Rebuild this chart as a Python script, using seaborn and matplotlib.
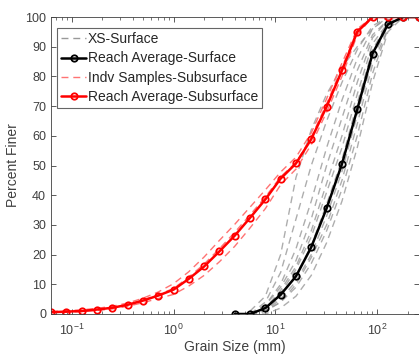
import numpy as np
import pandas as pd
import matplotlib
matplotlib.use("Agg")
import matplotlib.pyplot as plt
import seaborn as sns
from matplotlib.lines import Line2D

sns.set_style("ticks")
plt.rcParams['font.family'] = ['Liberation Sans', 'DejaVu Sans']

# grain sizes (mm)
sizes_sub = [0.0625, 0.088, 0.125, 0.177, 0.25, 0.354, 0.5, 0.707, 1, 1.41, 2, 2.83,
             4, 5.66, 8, 11.3, 16, 22.6, 32, 45.3, 64, 90.5, 128, 181, 256]
avg_sub = [0.6, 0.8, 1.0, 1.5, 2.1, 3.1, 4.5, 6.2, 8.2, 11.8, 16.0, 21.1,
           26.4, 32.4, 38.6, 45.6, 50.7, 58.9, 69.8, 82.0, 95.0, 100, 100, 100, 100]
indv_sub_1 = [0.8, 1.1, 1.4, 1.9, 2.6, 3.7, 5.3, 7.4, 10.2, 14.2, 19.2, 24.8,
              30.2, 36.0, 41.8, 47.8, 52.8, 61.0, 72.5, 84.5, 96.0, 100, 100, 100, 100]
indv_sub_2 = [0.5, 0.6, 0.8, 1.2, 1.7, 2.6, 3.8, 5.2, 6.6, 9.4, 13.0, 17.6,
              22.8, 29.0, 35.5, 43.5, 48.8, 57.0, 68.0, 80.0, 94.0, 100, 100, 100, 100]
indv_sub_3 = [0.6, 0.9, 1.1, 1.6, 2.2, 3.2, 4.7, 6.5, 8.6, 12.4, 16.8, 22.0,
              27.5, 33.4, 39.4, 46.2, 51.0, 59.5, 70.8, 83.0, 95.5, 100, 100, 100, 100]

sizes_surf = [4, 5.66, 8, 11.3, 16, 22.6, 32, 45.3, 64, 90.5, 128, 181, 256]
avg_surf = [0, 0, 2.0, 6.5, 12.7, 22.5, 35.6, 50.5, 68.9, 87.7, 97.5, 100, 100]

sizes_xs = [5.66, 8, 11.3, 16, 22.6, 32, 45.3, 64, 90.5, 128, 181]
xs_1 = [1, 6, 20, 46, 62, 74, 83, 90, 96, 100, 100]
xs_2 = [0, 4, 14, 32, 50, 65, 78, 89, 97, 100, 100]
xs_3 = [0, 3, 10, 22, 38, 56, 72, 86, 96, 100, 100]
xs_4 = [0, 3, 9, 18, 32, 50, 66, 82, 94, 99, 100]
xs_5 = [0, 2, 8, 16, 28, 44, 60, 78, 93, 99, 100]
xs_6 = [0, 2, 7, 15, 26, 41, 56, 74, 91, 98, 100]
xs_7 = [0, 1, 6, 13, 23, 37, 52, 71, 89, 98, 100]
xs_8 = [0, 1, 5, 11, 20, 33, 48, 67, 86, 97, 100]
xs_9 = [0, 1, 4, 10, 19, 30, 45, 64, 84, 96, 100]
xs_10 = [0, 1, 4, 9, 17, 28, 42, 60, 81, 96, 100]
xs_11 = [0, 0, 2, 6, 13, 24, 38, 56, 78, 95, 100]
xs_all = [xs_1, xs_2, xs_3, xs_4, xs_5, xs_6, xs_7, xs_8, xs_9, xs_10, xs_11]

legend_labels = ["XS-Surface", "Reach Average-Surface",
                 "Indv Samples-Subsurface", "Reach Average-Subsurface"]
y_ticks = list(range(0, 101, 10))

fig = plt.figure(figsize=(4.19, 3.55), dpi=100)
ax = fig.add_axes([51/419, 1-314/355, 367.5/419, 297/355])

grey = (0.6, 0.6, 0.6)
dash = (0, (5, 3.5))
for xs in xs_all:
    sns.lineplot(x=sizes_xs, y=xs, ax=ax, color=grey, lw=1.0, alpha=0.8,
                 linestyle=dash, legend=False)

ms = 4.6
sns.lineplot(x=sizes_surf, y=avg_surf, ax=ax, color='black', lw=1.8,
             marker='o', markersize=ms, markerfacecolor='none',
             markeredgecolor='black', markeredgewidth=1.3, legend=False)

lightred = (1.0, 0.45, 0.45)
for s in [indv_sub_1, indv_sub_2, indv_sub_3]:
    sns.lineplot(x=sizes_sub, y=s, ax=ax, color=lightred, lw=1.0,
                 linestyle=dash, legend=False)

sns.lineplot(x=sizes_sub, y=avg_sub, ax=ax, color='red', lw=1.8,
             marker='o', markersize=ms, markerfacecolor='none',
             markeredgecolor='red', markeredgewidth=1.3, legend=False)

ax.set_xscale('log')
ax.set_xlim(0.0625, 256)
ax.set_ylim(0, 100)
ax.set_yticks(y_ticks)
ax.tick_params(axis='both', which='both', direction='in', top=True, right=True,
               labelsize=9, colors='#404040', labelcolor='#404040')
ax.tick_params(axis='x', which='major', pad=6)
ax.tick_params(which='major', length=3.5, width=0.6)
ax.tick_params(which='minor', length=2, width=0.5)
for sp in ax.spines.values():
    sp.set_color('#404040')
    sp.set_linewidth(0.6)
ax.set_xlabel("Grain Size (mm)", fontsize=10, color='#404040', labelpad=2)
ax.set_ylabel("Percent Finer", fontsize=10, color='#404040', labelpad=4)

handles = [
    Line2D([], [], color=grey, lw=1.0, linestyle=dash),
    Line2D([], [], color='black', lw=1.8, marker='o', markersize=ms,
           markerfacecolor='none', markeredgewidth=1.3),
    Line2D([], [], color=lightred, lw=1.0, linestyle=dash),
    Line2D([], [], color='red', lw=1.8, marker='o', markersize=ms,
           markerfacecolor='none', markeredgewidth=1.3),
]
leg = ax.legend(handles, legend_labels, loc='upper left', fontsize=10,
                bbox_to_anchor=((57-51)/367.5, (314-28)/297),
                frameon=True, fancybox=False, edgecolor='#404040',
                handlelength=1.8, handletextpad=0.1, borderpad=0.3,
                labelspacing=0.38, borderaxespad=0)
leg.get_frame().set_linewidth(0.8)
for t in leg.get_texts():
    t.set_color('#262626')

fig.savefig("out.png", dpi=100)
